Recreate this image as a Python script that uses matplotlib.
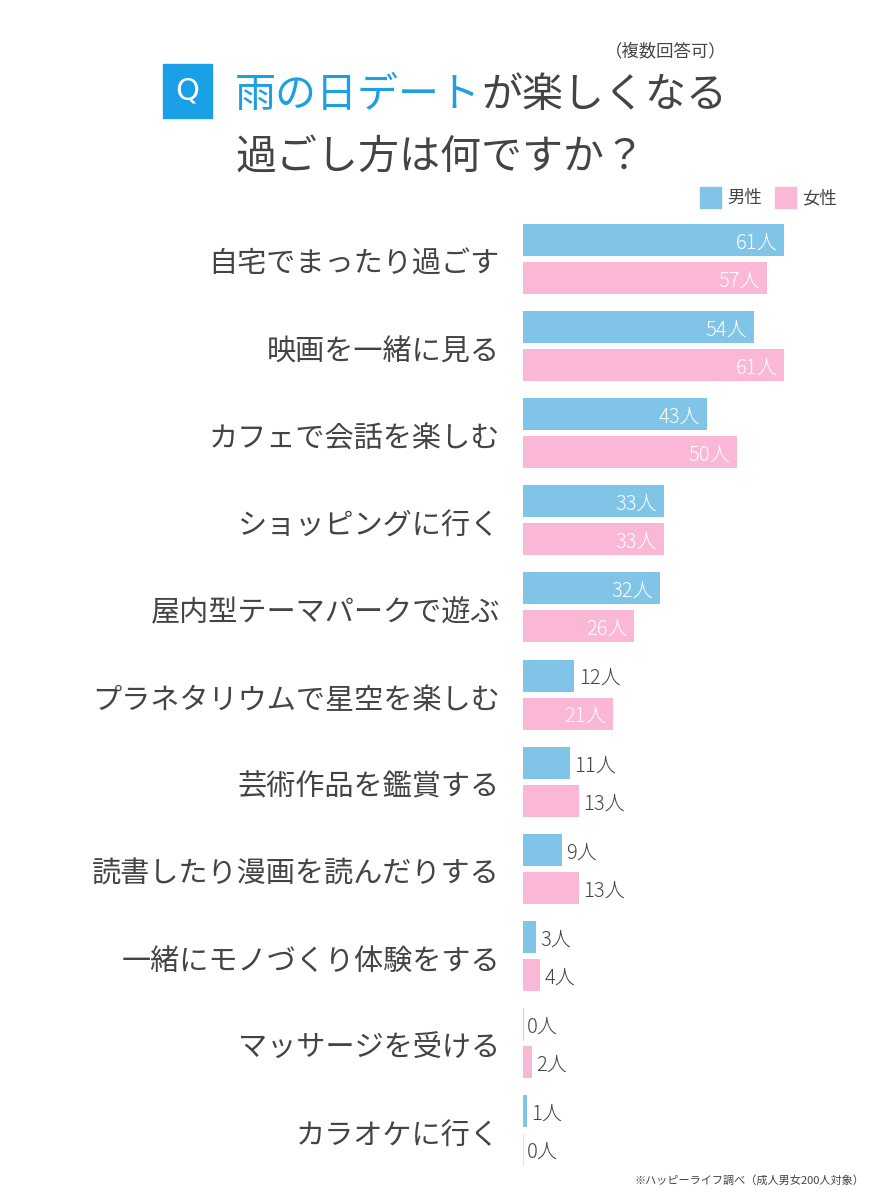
import matplotlib
matplotlib.use("Agg")
import matplotlib.pyplot as plt
from matplotlib.patches import Rectangle

plt.rcParams['font.family'] = ['Noto Sans CJK JP', 'DejaVu Sans']

categories = ["自宅でまったり過ごす", "映画を一緒に見る", "カフェで会話を楽しむ", "ショッピングに行く",
              "屋内型テーマパークで遊ぶ", "プラネタリウムで星空を楽しむ", "芸術作品を鑑賞する",
              "読書したり漫画を読んだりする", "一緒にモノづくり体験をする", "マッサージを受ける",
              "カラオケに行く"]
male = [61, 54, 43, 33, 32, 12, 11, 9, 3, 0, 1]
female = [57, 61, 50, 33, 26, 21, 13, 13, 4, 2, 0]
series_names = ["男性", "女性"]

BLUE = "#80c4e8"
PINK = "#fab8d6"
TEXT = "#444444"
TITLE_BLUE = "#1e9ee3"

W, H = 875, 1200
fig = plt.figure(figsize=(W / 100, H / 100), dpi=100)

ax_left, ax_right = 523, 875
top_px, bottom_px = 215.5, 1173.6
ax = fig.add_axes([ax_left / W, 1 - bottom_px / H, (ax_right - ax_left) / W, (bottom_px - top_px) / H])
px_per_unit = 4.28
ax.set_xlim(0, (ax_right - ax_left) / px_per_unit)
n = len(categories)
ax.set_ylim(n - 0.5, -0.5)
ax.axis('off')

off = 0.218
bh = 0.368
lbl_dy = 0.035
for i in range(n):
    for val, color, dy in ((male[i], BLUE, -off), (female[i], PINK, off)):
        y = i + dy
        if val == 0:
            ax.barh(y, 0, height=bh, color=color, edgecolor=color, linewidth=0.8, alpha=0.6)
        else:
            ax.barh(y, val, height=bh, color=color, linewidth=0)
        label = f"{val}人"
        if val >= 20:
            ax.text(val - 1.6, y + lbl_dy, label, ha='right', va='center', color='white',
                    fontsize=14.5, fontweight='light')
        else:
            ax.text(val + 1.0, y + lbl_dy, label, ha='left', va='center', color=TEXT,
                    fontsize=14.5, fontweight='light')
    ax.text(-5.4, i + 0.07, categories[i], ha='right', va='center', color=TEXT, fontsize=21,
            clip_on=False)

# Title
fig.patches.append(Rectangle((163 / W, 1 - 118 / H), 49 / W, 54 / H, transform=fig.transFigure,
                             color="#1aa0e6", zorder=1))
fig.text(187.5 / W, 1 - 91 / H, "Q", ha='center', va='center', color='white', fontsize=22,
         family=['DejaVu Sans'])
t1 = fig.text(235 / W, 1 - 96 / H, "雨の日デート", ha='left', va='center', color=TITLE_BLUE, fontsize=29.5)
fig.canvas.draw()
bb = t1.get_window_extent()
fig.text(bb.x1 / W, 1 - 96 / H, "が楽しくなる", ha='left', va='center', color=TEXT, fontsize=29.5)
fig.text(235 / W, 1 - 158 / H, "過ごし方は何ですか？", ha='left', va='center', color=TEXT, fontsize=29.5)
fig.text(727 / W, 1 - 51 / H, "（複数回答可）", ha='right', va='center', color=TEXT, fontsize=12.5)

# Legend
for x0, name, color in ((700, series_names[0], BLUE), (775, series_names[1], PINK)):
    fig.patches.append(Rectangle((x0 / W, 1 - 208 / H), 21 / W, 21 / H, transform=fig.transFigure,
                                 color=color))
    fig.text((x0 + 27) / W, 1 - 198 / H, name, ha='left', va='center', color=TEXT, fontsize=12.5)

# Footnote
fig.text(864 / W, 1 - 1181 / H, "※ハッピーライフ調べ（成人男女200人対象）", ha='right', va='center',
         color=TEXT, fontsize=8)

fig.savefig("out.png", dpi=100, facecolor='white')
